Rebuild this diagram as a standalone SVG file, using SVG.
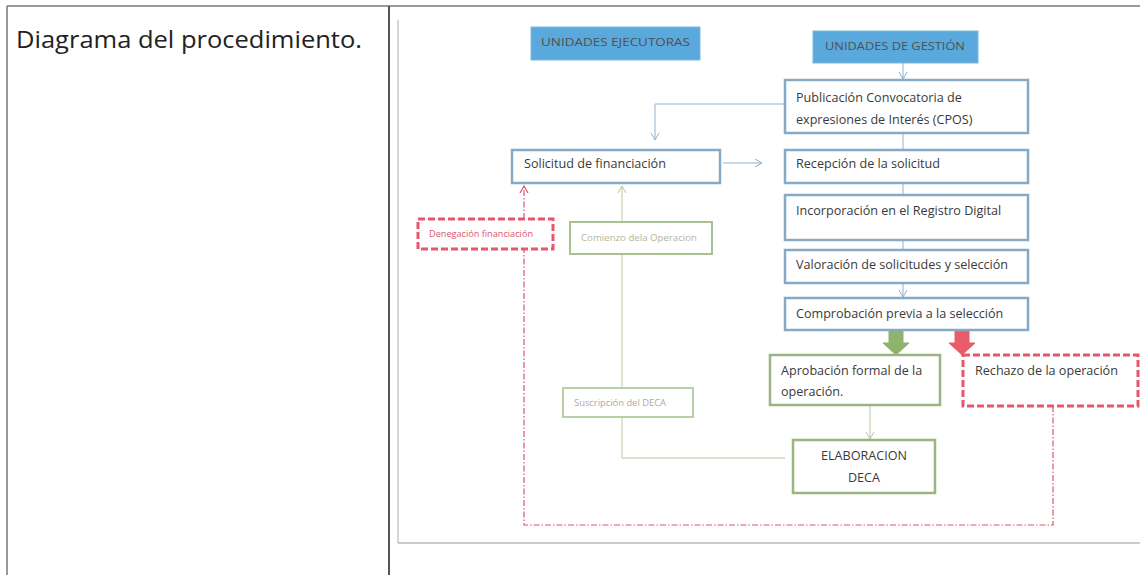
<svg xmlns="http://www.w3.org/2000/svg" width="1140" height="575" viewBox="0 0 1140 575">
<defs>
<style>
.t{font-family:"Open Sans","Liberation Sans",sans-serif;fill:#3a3a3a;font-size:12.6px}
.hdr{font-family:"Open Sans","Liberation Sans",sans-serif;fill:#505050;font-size:11px}
.sm{font-family:"Open Sans","Liberation Sans",sans-serif;font-size:9px}
.blue{fill:#fff;stroke:#86aac6;stroke-width:2.5}
.green{fill:#fff;stroke:#9bb582;stroke-width:2.5}
.red{fill:#fff;stroke:#e8566a;stroke-width:3;stroke-dasharray:7 3}
.hd{fill:#5aa9dd;stroke:#7fb7dd;stroke-width:1}
.cb{fill:none;stroke:#8fb2d0;stroke-width:1}
.cg{fill:none;stroke:#b5c9a4;stroke-width:1}
.cr{fill:none;stroke:#d9566f;stroke-width:1.2;stroke-dasharray:6 2 1.5 2}
</style>
<marker id="ab" markerWidth="10" markerHeight="10" refX="8" refY="5" orient="auto" markerUnits="userSpaceOnUse"><path d="M1,1 L8,5 L1,9" fill="none" stroke="#8fb2d0" stroke-width="1"/></marker>
<marker id="ag" markerWidth="10" markerHeight="10" refX="8" refY="5" orient="auto" markerUnits="userSpaceOnUse"><path d="M1,1 L8,5 L1,9" fill="none" stroke="#b5c9a4" stroke-width="1"/></marker>
<marker id="ar" markerWidth="10" markerHeight="10" refX="8" refY="5" orient="auto" markerUnits="userSpaceOnUse"><path d="M1,1 L8,5 L1,9" fill="none" stroke="#d9566f" stroke-width="1.2"/></marker>
</defs>
<rect x="0" y="0" width="1140" height="575" fill="#fff"/>
<g id="frame" fill="none">
<line x1="7" y1="6" x2="1140" y2="6" stroke="#777" stroke-width="1.5"/>
<line x1="7" y1="6" x2="7" y2="575" stroke="#777" stroke-width="1.5"/>
<line x1="389" y1="6" x2="389" y2="575" stroke="#555" stroke-width="2"/>
<line x1="398" y1="20" x2="398" y2="543" stroke="#aaa" stroke-width="1"/>
<line x1="398" y1="543" x2="1140" y2="543" stroke="#999" stroke-width="1.2"/>
</g>
<text x="16" y="48" font-family="'Open Sans','Liberation Sans',sans-serif" font-size="23" fill="#222" textLength="346" lengthAdjust="spacingAndGlyphs">Diagrama del procedimiento.</text>
<g id="connectors">
<line x1="903" y1="63" x2="903" y2="79" class="cb" marker-end="url(#ab)"/>
<polyline points="785,104 655,104 655,140" class="cb" marker-end="url(#ab)"/>
<line x1="723" y1="163" x2="762" y2="163" class="cb" marker-end="url(#ab)"/>
<line x1="903" y1="133" x2="903" y2="149" class="cb"/>
<line x1="903" y1="183" x2="903" y2="194" class="cb"/>
<line x1="903" y1="240" x2="903" y2="249" class="cb"/>
<line x1="903" y1="283" x2="903" y2="297" class="cb" marker-end="url(#ab)"/>
<path d="M889,331 h14 v12 h6 l-13,12 l-13,-12 h6 z" fill="#8db46a" stroke="#8db46a"/>
<path d="M955,331 h14 v12 h6 l-13,12 l-13,-12 h6 z" fill="#e95d6b" stroke="#e95d6b"/>
<line x1="870" y1="405" x2="870" y2="439" class="cg" marker-end="url(#ag)"/>
<polyline points="785,458 622,458 622,417" class="cg"/>
<line x1="622" y1="388" x2="622" y2="254" class="cg"/>
<line x1="622" y1="222" x2="622" y2="186" class="cg" marker-end="url(#ag)"/>
<polyline points="1053,406 1053,525 524,525 524,249" class="cr"/>
<line x1="524" y1="219" x2="524" y2="186" class="cr" marker-end="url(#ar)"/>
</g>
<g id="n-ejecutoras">
<rect x="531" y="27" width="169" height="33" class="hd"/>
<text x="541" y="46" class="hdr" textLength="149" lengthAdjust="spacingAndGlyphs">UNIDADES EJECUTORAS</text>
</g>
<g id="n-gestion">
<rect x="813" y="31" width="165" height="32" class="hd"/>
<text x="825" y="50" class="hdr" textLength="140" lengthAdjust="spacingAndGlyphs">UNIDADES DE GESTIÓN</text>
</g>
<g id="n-publicacion">
<rect x="785" y="80" width="243" height="53" class="blue"/>
<text x="796" y="102" class="t">Publicación Convocatoria de</text>
<text x="796" y="124" class="t">expresiones de Interés (CPOS)</text>
</g>
<g id="n-solicitud">
<rect x="512" y="150" width="208" height="33" class="blue"/>
<text x="524" y="168" class="t">Solicitud de financiación</text>
</g>
<g id="n-recepcion">
<rect x="785" y="150" width="243" height="33" class="blue"/>
<text x="796" y="168" class="t">Recepción de la solicitud</text>
</g>
<g id="n-incorporacion">
<rect x="785" y="195" width="243" height="45" class="blue"/>
<text x="796" y="215" class="t">Incorporación en el Registro Digital</text>
</g>
<g id="n-valoracion">
<rect x="785" y="250" width="243" height="33" class="blue"/>
<text x="796" y="269" class="t">Valoración de solicitudes y selección</text>
</g>
<g id="n-comprobacion">
<rect x="785" y="298" width="243" height="32" class="blue"/>
<text x="796" y="318" class="t">Comprobación previa a la selección</text>
</g>
<g id="n-aprobacion">
<rect x="770" y="355" width="170" height="50" class="green"/>
<text x="781" y="375" class="t">Aprobación formal de la</text>
<text x="781" y="396" class="t">operación.</text>
</g>
<g id="n-rechazo">
<rect x="963" y="355" width="175" height="51" class="red"/>
<text x="975" y="375" class="t">Rechazo de la operación</text>
</g>
<g id="n-elaboracion">
<rect x="793" y="440" width="142" height="53" class="green"/>
<text x="864" y="460" class="t" text-anchor="middle">ELABORACION</text>
<text x="864" y="482" class="t" text-anchor="middle">DECA</text>
</g>
<g id="n-suscripcion">
<rect x="563" y="388" width="130" height="29" fill="#fff" stroke="#b9cfa6" stroke-width="2"/>
<text x="574" y="406" class="sm" fill="#aaa" textLength="92" lengthAdjust="spacingAndGlyphs">Suscripción del DECA</text>
</g>
<g id="n-comienzo">
<rect x="570" y="222" width="142" height="32" fill="#fff" stroke="#a9c092" stroke-width="2"/>
<text x="581" y="241" class="sm" fill="#b5b5a0" textLength="116" lengthAdjust="spacingAndGlyphs">Comienzo dela Operacion</text>
</g>
<g id="n-denegacion">
<rect x="418" y="219" width="135" height="30" class="red"/>
<text x="429" y="237" class="sm" fill="#d9566f" textLength="104" lengthAdjust="spacingAndGlyphs">Denegación financiación</text>
</g>
</svg>
